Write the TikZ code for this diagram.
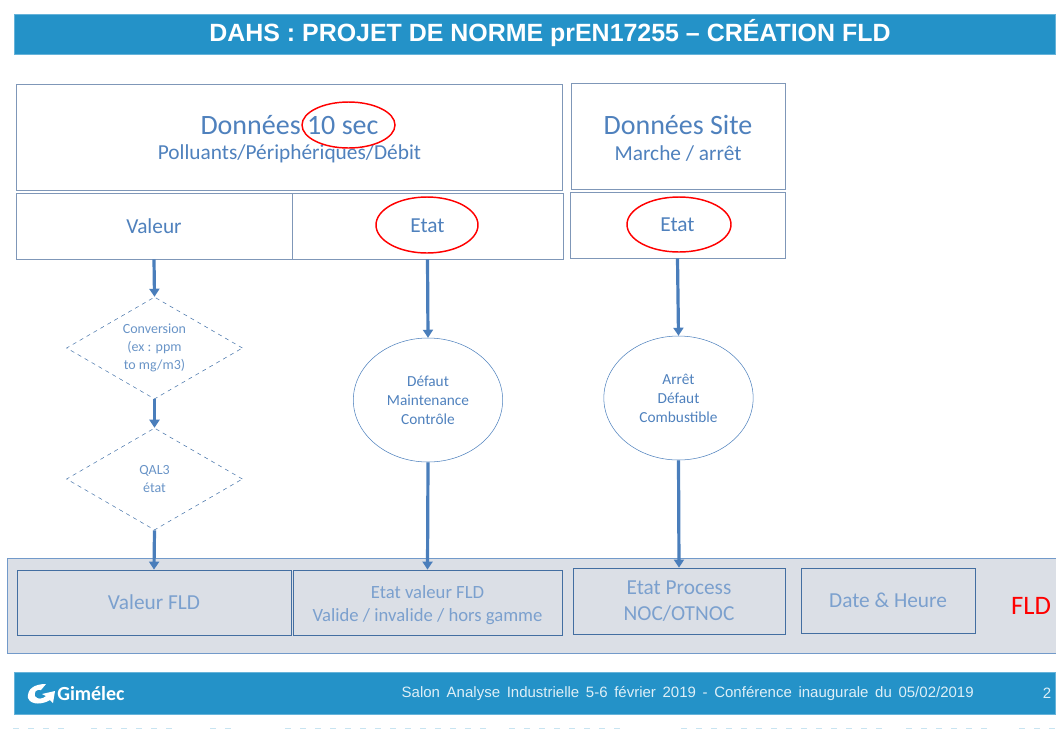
\documentclass[tikz,border=0pt]{standalone}
\usepackage{fontspec}
\setmainfont{Carlito}
\newfontfamily\arialfont{Liberation Sans}
\newcommand{\footfont}{\arialfont\fontsize{11.25}{13}\selectfont\spaceskip=5pt\relax}
\usetikzlibrary{shapes.geometric,arrows.meta}
\definecolor{BARBLUE}{HTML}{2492C8}
\definecolor{TXTBLUE}{HTML}{4F81BD}
\definecolor{EDGEBLUE}{HTML}{7F97B8}
\definecolor{ARROWBLUE}{HTML}{4A7EBB}
\definecolor{BANDGRAY}{HTML}{DBDFE6}
\begin{document}
\begin{tikzpicture}
[
 x=0.75pt,
 y=-0.75pt,
 inner sep=0mm,
 BAR/.style={rectangle, fill=BARBLUE, draw=BARBLUE!70!white, thin},
 BOX/.style={rectangle, draw=EDGEBLUE, fill=white, line width=0.7pt, text=TXTBLUE, align=center},
 FLDBOX/.style={rectangle, draw=TXTBLUE!85!black, fill=BANDGRAY, line width=0.6pt, text=TXTBLUE!75!white, align=center, font=\fontsize{16}{19}\selectfont},
 RING/.style={ellipse, draw=red, line width=1.1pt},
 LOSANGE/.style={diamond, draw=TXTBLUE!90!black, dashed, thin, text=TXTBLUE!85!white, align=center, font=\fontsize{10.5}{13.5}\selectfont, minimum width=132pt, minimum height=76.5pt, aspect=1.73},
 ROND/.style={ellipse, draw=TXTBLUE, thin, text=TXTBLUE, align=center, font=\fontsize{11.5}{14.25}\selectfont, minimum width=112pt, minimum height=93pt},
 FLECHE/.style={-{Triangle[length=6pt,width=7.5pt]}, draw=ARROWBLUE, line width=2.4pt},
 FOOTTXT/.style={text=white!85!BARBLUE, font=\footfont},
]
\useasboundingbox (0,0) rectangle (1056,729);
%
\node [BAR, minimum width=781pt, minimum height=30pt] (HEAD) at (535,34.5)  {};
\node [text=white, font=\arialfont\fontsize{18.7}{20}\bfseries\selectfont] (TITLE) at (550,33.5)  {DAHS : PROJET DE NORME prEN17255 – CRÉATION FLD};
%
\node [BOX, minimum width=410pt, minimum height=79.5pt]  (DATA)  at (289.5,137)  {\rule{0pt}{18pt}\fontsize{21}{24}\selectfont Données 10 sec\\[7pt] \fontsize{16}{18}\selectfont Polluants/Périphériques/Débit};
\node [BOX, minimum width=160.5pt, minimum height=79.5pt]  (SITE)  at (678,136)  {\rule{0pt}{18pt}\fontsize{21}{24}\selectfont Données Site\\[7pt] \fontsize{16}{18}\selectfont Marche / arrêt};
\node [BOX, minimum width=207pt, minimum height=49.5pt, font=\fontsize{16}{18}\selectfont]  (VAL)  at (154,226)  {Valeur};
\node [BOX, minimum width=203.25pt, minimum height=49.5pt, font=\fontsize{16}{18}\selectfont]  (ETAT)  at (427.5,226)  {Etat};
\node [BOX, minimum width=161.25pt, minimum height=49.5pt, font=\fontsize{16}{18}\selectfont]  (SETAT)  at (677.5,225)  {Etat};
%
\node [LOSANGE]  (CONV)  at (154.5,348)  {Conversion\\(ex : ppm\\to mg/m3)};
\node [LOSANGE]  (QAL)   at (154.5,479)  {QAL3\\état};
\node [ROND]  (DEF)   at (428,400)  {Défaut\\Maintenance\\Contrôle};
\node [ROND]  (ARR)   at (678.5,398)  {Arrêt\\Défaut\\Combustible};
%
\node [rectangle, draw=TXTBLUE!80!white, fill=BANDGRAY, line width=0.7pt, minimum width=810pt, minimum height=71.25pt]  (BAND)  at (547,605.5)  {};
\node [FLDBOX, minimum width=205.5pt, minimum height=48.75pt]  (VFLD)  at (154,602.5)  {Valeur FLD};
\node [FLDBOX, minimum width=201.75pt, minimum height=48.75pt, font=\fontsize{14}{17.5}\selectfont]  (EFLD)  at (427.5,602.5)  {\rule{0pt}{14pt}Etat valeur FLD\\Valide / invalide / hors gamme};
\node [FLDBOX, minimum width=159pt, minimum height=49.5pt]  (PFLD)  at (679,601)  {Etat Process\\NOC/OTNOC};
\node [FLDBOX, minimum width=130.5pt, minimum height=48.75pt]  (DFLD)  at (888,600.5)  {Date \& Heure};
\node [text=red, font=\fontsize{20}{22}\selectfont]  (FLD)  at (1031,606)  {FLD};
%
\draw [FLECHE]  (VAL.south)  -- (CONV.north) ;
\draw [FLECHE]  (CONV.south) -- (QAL.north) ;
\draw [FLECHE]  (QAL.south)  -- (VFLD.north) ;
\draw [FLECHE]  (ETAT.south) -- (DEF.north) ;
\draw [FLECHE]  (DEF.south)  -- (EFLD.north) ;
\draw [FLECHE]  (SETAT.south) -- (ARR.north) ;
\draw [FLECHE]  (ARR.south)  -- (PFLD.north) ;
%
\node [RING, minimum width=69.75pt, minimum height=34.5pt]  (RSEC)  at (348.5,125)  {};
\node [RING, minimum width=76.5pt, minimum height=42pt]  (RETAT)  at (427,225)  {};
\node [RING, minimum width=78pt, minimum height=41.25pt]  (RSITE)  at (679,224.5)  {};
%
\node [BAR, minimum width=781pt, minimum height=31.5pt]  (FOOT)  at (535,693)  {};
\fill [white] (28,698) .. controls (27,689) and (34,684) .. (46,684) -- (41,690) .. controls (36,689) and (34,692) .. (35,696) .. controls (37,700) and (43,699) .. (46,696) -- (42,694) -- (55,691) -- (53,703) -- (50,700) .. controls (44,704) and (31,706) .. (28,698) -- cycle;
\node [text=white, font=\fontsize{15}{16}\bfseries\selectfont, anchor=west]  (GIM)  at (57,693.5)  {Gimélec};
\node [FOOTTXT, anchor=east]  (SALON)  at (974,693.5)  {Salon Analyse Industrielle 5-6 février 2019 - Conférence inaugurale du 05/02/2019};
\node [FOOTTXT]  (PAGE)  at (1047,693.5)  {2};
%
\foreach \a/\b in {13/68,91/172,210/232,285/486,509/627,681/882,906/987,1019/1056}
   {
     \draw [BARBLUE!25!white, line width=1.2pt, dash pattern=on 4.5pt off 6.75pt] (\a,728.5) -- (\b,728.5);
   }
%
\end{tikzpicture}
\end{document}
